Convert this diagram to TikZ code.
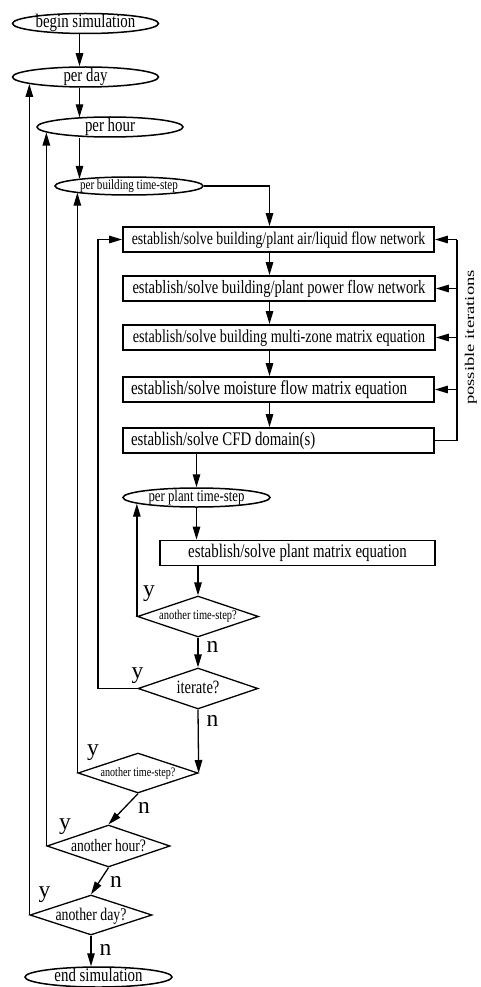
\documentclass[tikz,border=0pt]{standalone}
\usepackage{fontspec}
\usepackage{graphicx}
\setmainfont{Liberation Serif}[FakeStretch=0.775]
\newfontfamily\plainfont{Liberation Serif}
\usetikzlibrary{shapes.geometric,arrows.meta}
\newcommand\fsz[1]{\fontsize{#1}{#1}\selectfont}
\begin{document}
\begin{tikzpicture}[x=1pt,y=-1pt,
  ln/.style={line width=1.3pt},
  arr/.style={ln,-{Triangle[length=13pt,width=7.5pt]}},
  oval/.style={ellipse,draw,line width=1.5pt,inner sep=0pt,minimum width=146pt,minimum height=20pt,text height=11.5pt,text depth=2.5pt},
  stepbox/.style={rectangle,draw,line width=1.8pt,inner sep=0pt,minimum height=25pt,text height=13pt,text depth=4pt},
  choice/.style={diamond,draw,line width=1.3pt,inner sep=0pt,aspect=3,text height=11pt,text depth=1pt},
  yn/.style={font=\plainfont\fsz{23.5},inner sep=0pt}
]
\useasboundingbox (0,0) rectangle (480,987);

% ovals
\node[oval,font=\fsz{19.2}] (begin) at (85.5,23.5) {begin simulation};
\node[oval,font=\fsz{19.1}] (perday) at (85.5,77) {per day};
\node[oval,font=\fsz{19.2}] (perhour) at (110,127) {per hour};
\node[oval,font=\fsz{14.3},minimum width=148pt,minimum height=18pt,text height=9pt,text depth=2pt] (perbldg) at (129,186) {per building time-step};

% boxes
\node[stepbox,minimum width=311pt,font=\fsz{17.8}] (b1) at (278.5,239.5) {establish/solve building/plant air/liquid flow network};
\node[stepbox,minimum width=312pt,font=\fsz{18.8}] (b2) at (279,288.5) {establish/solve building/plant power flow network};
\node[stepbox,minimum width=312pt,font=\fsz{18.3}] (b3) at (279,337.5) {establish/solve building multi-zone matrix equation};
\node[stepbox,minimum width=311pt,font=\fsz{19.5}] (b4) at (278.5,389.5) {\makebox[295pt][l]{establish/solve moisture flow matrix equation}};
\node[stepbox,minimum width=311pt,font=\fsz{19.2}] (b5) at (278.5,440.5) {\makebox[295pt][l]{establish/solve CFD domain(s)}};

\node[oval,font=\fsz{16.5},minimum width=147pt,minimum height=19pt,text height=10pt,text depth=2.5pt] (perplant) at (196.5,497.5) {per plant time-step};
\node[stepbox,minimum width=275pt,font=\fsz{19.2}] (pbox) at (297.5,553) {establish/solve plant matrix equation};

% decisions
\node[choice,minimum width=121pt,minimum height=41pt,font=\fsz{13.5},text height=8pt,text depth=2pt] (d1) at (198,616.5) {another time-step?};
\node[choice,minimum width=120pt,minimum height=41pt,font=\fsz{18.8}] (iter) at (198,688.5) {iterate?};
\node[choice,minimum width=120pt,minimum height=40pt,font=\fsz{13},text height=8pt,text depth=2pt] (d3) at (138,773) {another time-step?};
\node[choice,minimum width=123pt,minimum height=42pt,font=\fsz{17.5}] (d4) at (108.5,846) {another hour?};
\node[choice,minimum width=122pt,minimum height=40pt,font=\fsz{17.8}] (d5) at (91,915) {another day?};
\node[oval,font=\fsz{19.2},minimum width=147pt] (end) at (98.5,977) {end simulation};

% helper coordinates
\coordinate (spine) at (79.5,0);
\coordinate (col) at (269.5,0);
\coordinate (lp) at (98,239.5);
\coordinate (it) at (457,239.5);

% main flow
\draw[arr] (begin.south -| spine) -- (perday.north -| spine);
\draw[arr] (perday.south -| spine) -- (spine |- perhour.163);
\draw[arr] (perhour.south -| spine) -- (spine |- perbldg.172);
\draw[arr] (perbldg.east) -| (b1.north -| col);
\draw[arr] (b1.south -| col) -- (b2.north -| col);
\draw[arr] (b2.south -| col) -- (b3.north -| col);
\draw[arr] (b3.south -| col) -- (b4.north -| col);
\draw[arr] (b4.south -| col) -- (b5.north -| col);
\draw[arr] (b5.south -| perplant.north) -- (perplant.north);
\draw[arr] (perplant.south) -- (perplant.south |- pbox.north);
\draw[arr] (d1.north |- pbox.south) -- (d1.north);
\draw[arr] (d1.south) -- (iter.north);
\draw[arr] (iter.south) -- (d3.east);
\draw[arr] (d3.south) -- (d4.north);
\draw[arr] (d4.south) -- (d5.north);
\draw[arr] (d5.south) -- (end.north -| d5.south);

% loops back
\draw[arr] (d5.west) -- (d5.west |- perday.187);
\draw[arr] (d4.west) -- (d4.west |- perhour.185);
\draw[arr] (d3.west) -- (d3.west |- perbldg.187);
\draw[arr] (d1.west) -- (d1.west |- perplant.186);
\draw[arr] (iter.west) -| (lp) -- (b1.west);

% possible iterations
\draw[ln] (b5.east) -| (it);
\draw[arr] (it) -- (b1.east);
\draw[arr] (b2.east -| it) -- (b2.east);
\draw[arr] (b3.east -| it) -- (b3.east);
\draw[arr] (b4.east -| it) -- (b4.east);
\node[rotate=90,font=\plainfont\fsz{18.6},inner sep=0pt] (possit) at (471,337.5) {\scalebox{1}[0.72]{possible iterations}};

% y / n labels
\node[yn] (y1) at (149,594) {y};
\node[yn] (n1) at (212.5,647) {n};
\node[yn] (y2) at (137.5,676) {y};
\node[yn] (n2) at (212.5,721) {n};
\node[yn] (y3) at (93,752.5) {y};
\node[yn] (n3) at (144,807.5) {n};
\node[yn] (y4) at (65,826.5) {y};
\node[yn] (n4) at (116,881.5) {n};
\node[yn] (y5) at (44.5,895) {y};
\node[yn] (n5) at (105.5,950) {n};
\end{tikzpicture}
\end{document}
